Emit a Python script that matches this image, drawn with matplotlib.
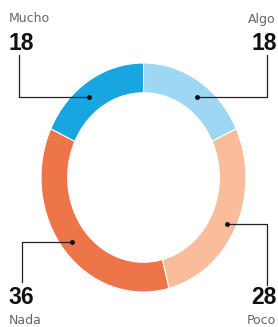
import matplotlib
matplotlib.use('Agg')
import matplotlib.pyplot as plt

# survey answers, clockwise from the top
labels = ['Algo', 'Poco', 'Nada', 'Mucho']
values = [18, 28, 36, 18]
colors = ['#9dd7f4', '#f9bd9c', '#ee7449', '#17a6e0']

W, H = 278, 327
fig = plt.figure(figsize=(W / 100, H / 100), dpi=100)

# ring (slightly taller than wide, like the original)
rx0, rx1, ry0, ry1 = 41, 246, 63, 292
ax_ring = fig.add_axes([rx0 / W, 1 - ry1 / H, (rx1 - rx0) / W, (ry1 - ry0) / H])
ax_ring.pie(values, colors=colors, startangle=90, counterclock=False, radius=1,
            wedgeprops=dict(width=0.26, edgecolor='white', linewidth=0.8))
ax_ring.set_aspect('auto')
ax_ring.set_xlim(-1, 1)
ax_ring.set_ylim(-1, 1)
ax_ring.axis('off')

# overlay in pixel coords for labels and leader lines
ax = fig.add_axes([0, 0, 1, 1])
ax.set_xlim(0, W)
ax.set_ylim(H, 0)
ax.axis('off')
ax.patch.set_alpha(0)

numfont = dict(family='Liberation Sans', fontweight='bold',
               fontsize=16.5, color='#111111')
lblfont = dict(family='DejaVu Sans', fontsize=9, color='#666666')

# Mucho (top-left)
ax.text(9, 19, labels[3], ha='left', va='center', **lblfont)
ax.text(8, 43, str(values[3]), ha='left', va='center', **numfont)
ax.plot([19, 19, 89], [55, 97, 97], color='#222222', lw=0.9)
ax.plot(89, 97, 'o', color='#111111', ms=2.5)

# Algo (top-right)
ax.text(276, 19, labels[0], ha='right', va='center', **lblfont)
ax.text(277, 43, str(values[0]), ha='right', va='center', **numfont)
ax.plot([197, 267, 267], [97, 97, 55], color='#222222', lw=0.9)
ax.plot(197, 97, 'o', color='#111111', ms=2.5)

# Nada (bottom-left)
ax.text(8, 298, str(values[2]), ha='left', va='center', **numfont)
ax.text(9, 320, labels[2], ha='left', va='center', **lblfont)
ax.plot([72, 22, 22], [242, 242, 282], color='#222222', lw=0.9)
ax.plot(72, 242, 'o', color='#111111', ms=2.5)

# Poco (bottom-right)
ax.text(277, 298, str(values[1]), ha='right', va='center', **numfont)
ax.text(276, 320, labels[1], ha='right', va='center', **lblfont)
ax.plot([227, 267, 267], [224, 224, 285], color='#222222', lw=0.9)
ax.plot(227, 224, 'o', color='#111111', ms=2.5)

fig.savefig('out.png', dpi=100)
